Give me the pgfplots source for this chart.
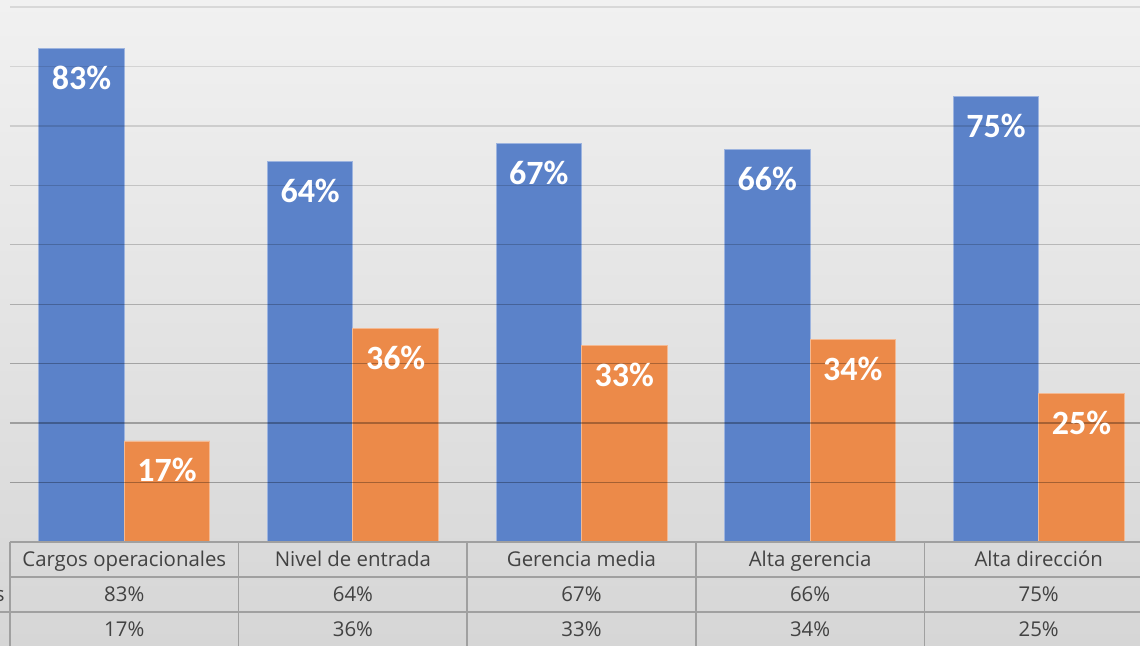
\documentclass[border=0pt]{standalone}
\usepackage{pgfplots}
\pgfplotsset{compat=1.18}
\usepackage{fontspec}
\setmainfont{Carlito}
\newfontfamily\tablefont{Open Sans}
\definecolor{barblue}{RGB}{91,130,201}
\definecolor{barorange}{RGB}{236,138,73}
\definecolor{txt}{RGB}{66,66,66}
\definecolor{bgtop}{RGB}{241,241,241}
\definecolor{bgbot}{RGB}{214,214,214}
\definecolor{tline}{RGB}{160,160,160}
\begin{document}
\begin{tikzpicture}
\begin{axis}[
  scale only axis, width=571.5pt, height=271pt,
  xmin=-0.5, xmax=4.5, ymin=0, ymax=0.9118,
  hide axis, clip=false,
  ybar=0pt, bar width=0.374,
  nodes near coords, point meta=explicit symbolic,
  every node near coord/.append style={font=\bfseries\fontsize{17}{18}\selectfont, text=white, anchor=base, yshift=-20.5pt},
]
% background
\shade[top color=bgtop, bottom color=bgbot] (axis cs:-0.5437,-0.1733) rectangle (axis cs:4.4431,0.9118);
\coordinate (bbsw) at (axis cs:-0.5437,-0.1733);
\coordinate (bbne) at (axis cs:4.4431,0.9118);
\addplot[fill=barblue, draw=barblue!60!white, line width=0.4pt, bar shift=-0.187]
  coordinates {(0,0.83) [83\%] (1,0.64) [64\%] (2,0.67) [67\%] (3,0.66) [66\%] (4,0.75) [75\%]};
\addplot[fill=barorange, draw=barorange!60!white, line width=0.4pt, bar shift=0.187]
  coordinates {(0,0.17) [17\%] (1,0.36) [36\%] (2,0.33) [33\%] (3,0.34) [34\%] (4,0.25) [25\%]};
% gridlines (drawn over the bars, faint)
\draw[black, opacity=0.30, line width=0.7pt] (axis cs:-0.5,0.1) -- (axis cs:4.5,0.1);
\draw[black, opacity=0.29, line width=0.7pt] (axis cs:-0.5,0.2) -- (axis cs:4.5,0.2);
\draw[black, opacity=0.28, line width=0.7pt] (axis cs:-0.5,0.3) -- (axis cs:4.5,0.3);
\draw[black, opacity=0.24, line width=0.7pt] (axis cs:-0.5,0.4) -- (axis cs:4.5,0.4);
\draw[black, opacity=0.20, line width=0.7pt] (axis cs:-0.5,0.5) -- (axis cs:4.5,0.5);
\draw[black, opacity=0.16, line width=0.7pt] (axis cs:-0.5,0.6) -- (axis cs:4.5,0.6);
\draw[black, opacity=0.13, line width=0.7pt] (axis cs:-0.5,0.7) -- (axis cs:4.5,0.7);
\draw[black, opacity=0.11, line width=0.7pt] (axis cs:-0.5,0.8) -- (axis cs:4.5,0.8);
\draw[black, opacity=0.10, line width=0.7pt] (axis cs:-0.5,0.9) -- (axis cs:4.5,0.9);
% data table
\draw[tline, line width=0.9pt] (axis cs:-0.5,0) -- (axis cs:4.5,0);
\draw[tline, line width=0.7pt] (axis cs:-0.5,-0.0589) -- (axis cs:4.5,-0.0589);
\draw[tline, line width=0.7pt] (axis cs:-0.5437,-0.1178) -- (axis cs:4.5,-0.1178);
\draw[tline, line width=0.7pt] (axis cs:-0.5,0) -- (axis cs:-0.5,-0.19);
\draw[tline, line width=0.7pt] (axis cs:0.5,0) -- (axis cs:0.5,-0.19);
\draw[tline, line width=0.7pt] (axis cs:1.5,0) -- (axis cs:1.5,-0.19);
\draw[tline, line width=0.7pt] (axis cs:2.5,0) -- (axis cs:2.5,-0.19);
\draw[tline, line width=0.7pt] (axis cs:3.5,0) -- (axis cs:3.5,-0.19);
\tikzset{tabtxt/.style={anchor=base, text=txt, font=\tablefont\fontsize{10.2}{12}\selectfont, inner sep=0pt}}
\node[tabtxt] at (axis cs:0,-0.0420) {Cargos operacionales};
\node[tabtxt] at (axis cs:1,-0.0420) {Nivel de entrada};
\node[tabtxt] at (axis cs:2,-0.0420) {Gerencia media};
\node[tabtxt] at (axis cs:3,-0.0420) {Alta gerencia};
\node[tabtxt] at (axis cs:4,-0.0420) {Alta dirección};
\node[tabtxt] at (axis cs:0,-0.0993) {83\%};
\node[tabtxt] at (axis cs:1,-0.0993) {64\%};
\node[tabtxt] at (axis cs:2,-0.0993) {67\%};
\node[tabtxt] at (axis cs:3,-0.0993) {66\%};
\node[tabtxt] at (axis cs:4,-0.0993) {75\%};
\node[tabtxt] at (axis cs:0,-0.1598) {17\%};
\node[tabtxt] at (axis cs:1,-0.1598) {36\%};
\node[tabtxt] at (axis cs:2,-0.1598) {33\%};
\node[tabtxt] at (axis cs:3,-0.1598) {34\%};
\node[tabtxt] at (axis cs:4,-0.1598) {25\%};
\node[tabtxt, anchor=base east] at (axis cs:-0.5219,-0.0993) {Hombres};
\end{axis}
\pgfresetboundingbox
\useasboundingbox (bbsw) rectangle (bbne);
\end{tikzpicture}
\end{document}
